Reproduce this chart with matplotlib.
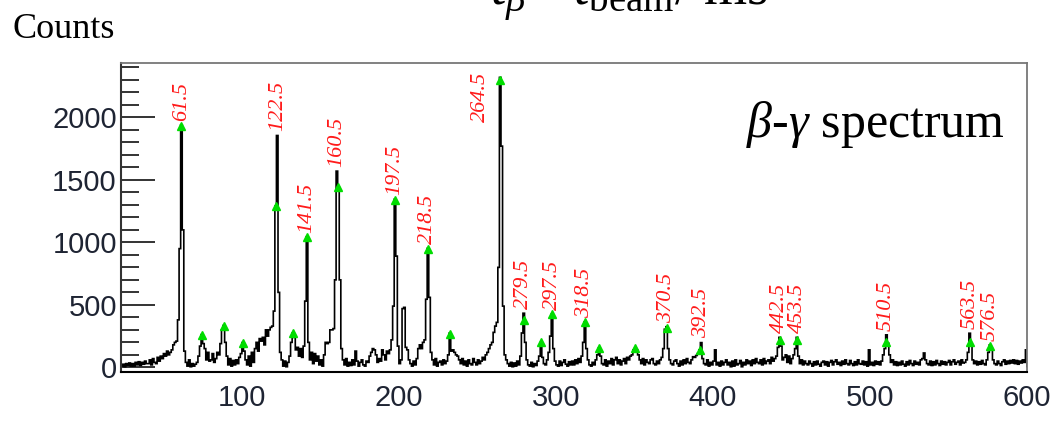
import numpy as np
import matplotlib
matplotlib.use("Agg")
import matplotlib.pyplot as plt
from matplotlib.ticker import MultipleLocator

plt.rcParams["font.family"] = "Liberation Sans"
plt.rcParams["mathtext.fontset"] = "custom"
plt.rcParams["mathtext.rm"] = "Liberation Serif"
plt.rcParams["mathtext.it"] = "Liberation Serif:italic"

# 1 keV bins, lower edges 23 ... 599
bin_low = 23
counts = [
    10, 25, 5, 30, 15, 35, 10,                        # 23-29
    30, 10, 40, 20, 45, 15, 40, 25, 50, 30,           # 30-39
    30, 60, 20, 70, 40, 30, 80, 50, 90, 70,           # 40-49
    110, 90, 130, 100, 120, 140, 180, 200, 210, 380,  # 50-59
    950, 1940, 1100, 130, 40, 10, 60, 5, 30, 10,      # 60-69
    25, 40, 90, 170, 262, 190, 150, 60, 120, 50,      # 70-79
    60, 110, 40, 70, 120, 100, 190, 300, 335, 200,    # 80-89
    90, 20, 70, 10, 55, 20, 60, 30, 80, 110,          # 90-99
    198, 130, 60, 20, 90, 10, 120, 40, 150, 200,      # 100-109
    130, 230, 210, 240, 180, 300, 250, 300, 320, 330,  # 110-119
    450, 1290, 1855, 600, 120, 60, 10, 50, 5, 40,     # 120-129
    90, 200, 275, 240, 140, 160, 90, 150, 80, 170,    # 130-139
    530, 1045, 200, 60, 120, 30, 110, 50, 90, 20,     # 140-149
    60, 10, 100, 200, 190, 200, 300, 300, 310, 700,   # 150-159
    1570, 1442, 700, 150, 60, 20, 70, 10, 40, 15,     # 160-169
    60, 20, 130, 50, 10, 40, 60, 20, 10, 50,          # 170-179
    40, 90, 120, 150, 140, 100, 40, 70, 50, 140,      # 180-189
    100, 60, 130, 110, 140, 220, 490, 1345, 890, 170,  # 190-199
    30, 60, 470, 480, 160, 140, 60, 30, 10, 50,       # 200-209
    20, 70, 150, 180, 150, 200, 220, 545, 952, 560,   # 210-219
    120, 60, 20, 70, 10, 40, 50, 20, 60, 30,          # 220-229
    50, 100, 274, 130, 140, 120, 100, 90, 60, 30,     # 230-239
    70, 20, 50, 10, 60, 30, 20, 70, 40, 20,           # 240-249
    60, 30, 50, 80, 60, 100, 120, 150, 180, 200,      # 250-259
    280, 330, 360, 800, 2320, 1770, 490, 100, 60, 30,  # 260-269
    10, 40, 5, 35, 10, 50, 20, 90, 275, 433,          # 270-279
    200, 60, 20, 10, 40, 5, 30, 15, 50, 90,           # 280-289
    199, 80, 30, 20, 60, 120, 250, 425, 150, 50,      # 290-299
    20, 10, 50, 15, 40, 60, 25, 10, 45, 20,           # 300-309
    50, 20, 60, 30, 70, 40, 90, 200, 364, 150,        # 310-319
    60, 20, 10, 40, 20, 60, 100, 154, 90, 30,         # 320-329
    20, 60, 10, 50, 30, 70, 20, 60, 80, 30,           # 330-339
    60, 20, 50, 70, 30, 80, 60, 90, 100, 140,         # 340-349
    151, 140, 100, 60, 30, 70, 20, 60, 40, 30,        # 350-359
    60, 70, 30, 20, 50, 30, 60, 80, 150, 305,         # 360-369
    325, 150, 60, 30, 20, 50, 60, 30, 10, 50,         # 370-379
    20, 60, 30, 70, 40, 30, 60, 85, 80, 95,           # 380-389
    110, 139, 198, 70, 30, 20, 60, 10, 40, 20,        # 390-399
    50, 140, 20, 40, 10, 50, 20, 40, 60, 20,          # 400-409
    40, 5, 50, 10, 60, 20, 30, 55, 5, 40,             # 410-419
    20, 60, 30, 50, 15, 60, 30, 70, 40, 30,           # 420-429
    60, 20, 70, 30, 50, 60, 30, 80, 50, 70,           # 430-439
    90, 160, 240, 170, 60, 80, 100, 40, 90, 30,       # 440-449
    70, 100, 150, 240, 90, 30, 60, 20, 50, 30,        # 450-459
    20, 50, 30, 10, 45, 20, 50, 25, 10, 40,           # 460-469
    50, 20, 45, 10, 40, 55, 20, 45, 60, 25,           # 470-479
    40, 15, 50, 25, 60, 30, 20, 55, 30, 15,           # 480-489
    45, 20, 60, 30, 25, 50, 20, 45, 10, 140,          # 490-499
    20, 40, 15, 50, 25, 45, 20, 50, 100, 150,         # 500-509
    260, 193, 100, 40, 60, 20, 45, 15, 40, 20,        # 510-519
    50, 25, 10, 45, 20, 55, 30, 15, 50, 25,           # 520-529
    40, 20, 60, 70, 115, 60, 30, 20, 50, 15,          # 530-539
    45, 20, 55, 30, 15, 50, 25, 45, 20, 40,           # 540-549
    55, 20, 45, 60, 25, 40, 50, 20, 60, 35,           # 550-559
    40, 60, 120, 273, 193, 60, 30, 50, 20, 45,        # 560-569
    25, 55, 30, 20, 60, 120, 180, 150, 60, 30,        # 570-579
    20, 50, 30, 15, 45, 60, 25, 50, 30, 55,           # 580-589
    35, 60, 30, 55, 25, 50, 35, 60, 40, 140,          # 590-599
]

# peak-search markers
marker_energies = [61.5, 74.5, 88.5, 100.5, 121.5, 132.5, 141.5, 161.5, 197.5,
                   218.5, 232.5, 264.5, 279.5, 290.5, 297.5, 318.5, 327.5, 350.5,
                   370.5, 391.5, 442.5, 453.5, 510.5, 563.5, 576.5]
marker_counts = [1932, 262, 330, 198, 1290, 275, 1040, 1442, 1340,
                 950, 267, 2301, 380, 199, 425, 364, 154, 151,
                 311, 140, 220, 220, 199, 199, 172]

# identified gamma lines (keV)
line_energies = [61.5, 122.5, 141.5, 160.5, 197.5, 218.5, 264.5, 279.5, 297.5,
                 318.5, 370.5, 392.5, 442.5, 453.5, 510.5, 563.5, 576.5]

edges = np.arange(bin_low, bin_low + len(counts) + 1)
counts = np.array(counts)
ymin, ymax = -37, 2435

fig = plt.figure(figsize=(10.53, 4.26), dpi=100)
ax = fig.add_axes([0.1149, 0.1268, 0.8604, 0.7253])

ax.stairs(counts, edges, color="black", lw=1.2, baseline=0, zorder=2)
ax.plot(marker_energies, marker_counts, ls="none", marker="^", ms=6,
        color="#00dd00", mec="#00dd00", zorder=4)

label_font = dict(family="Liberation Serif", style="italic", size=16, color="#ff1a1a")
for e in line_energies:
    i = int(e - bin_low)
    top = counts[max(i - 1, 0):i + 2].max()
    if top > 0.85 * ymax:
        # no room above the peak: put the label beside it
        ax.annotate(f"{e:.1f}", (e, top), xytext=(-14, 4), textcoords="offset points",
                    rotation=90, ha="center", va="top", zorder=5, **label_font)
    else:
        ax.annotate(f"{e:.1f}", (e, top), xytext=(0, 3), textcoords="offset points",
                    rotation=90, ha="center", va="bottom", zorder=5, **label_font)

ax.set_xlim(bin_low, 600)
ax.set_ylim(ymin, ymax)
ax.set_xticks(range(100, 601, 100))
ax.yaxis.set_major_locator(MultipleLocator(500))
ax.yaxis.set_minor_locator(MultipleLocator(100))

tick_color = "#1e2433"
ax.tick_params(axis="y", which="major", direction="in", length=24.5, width=1.4,
               color="#333333", labelsize=21, labelcolor=tick_color, pad=3)
ax.tick_params(axis="y", which="minor", direction="in", length=13, width=1.4,
               color="#333333")
ax.tick_params(axis="x", which="both", length=0, labelsize=21,
               labelcolor=tick_color, pad=9)

ax.spines["left"].set_color("#333333")
ax.spines["left"].set_linewidth(1.5)
ax.spines["bottom"].set_color("black")
ax.spines["bottom"].set_linewidth(1.5)
for side in ("top", "right"):
    ax.spines[side].set_color("#777777")
    ax.spines[side].set_linewidth(1.3)

ax.text(0.976, 0.76, r"$\beta$-$\gamma$ spectrum", transform=ax.transAxes,
        ha="right", va="baseline", fontsize=36, family="Liberation Serif")

fig.text(12 / 1053, 1 - 38 / 426, "Counts", ha="left", va="baseline",
         fontsize=26, family="Liberation Serif")
# axis title of the panel above, only its lower part falls inside the figure
fig.text(490 / 1053, 1 - 5 / 426, r"$t_{\beta} - t_{\rm beam}$/ ms",
         ha="left", va="baseline", fontsize=40, family="Liberation Serif")

fig.savefig("out.png", dpi=100)
